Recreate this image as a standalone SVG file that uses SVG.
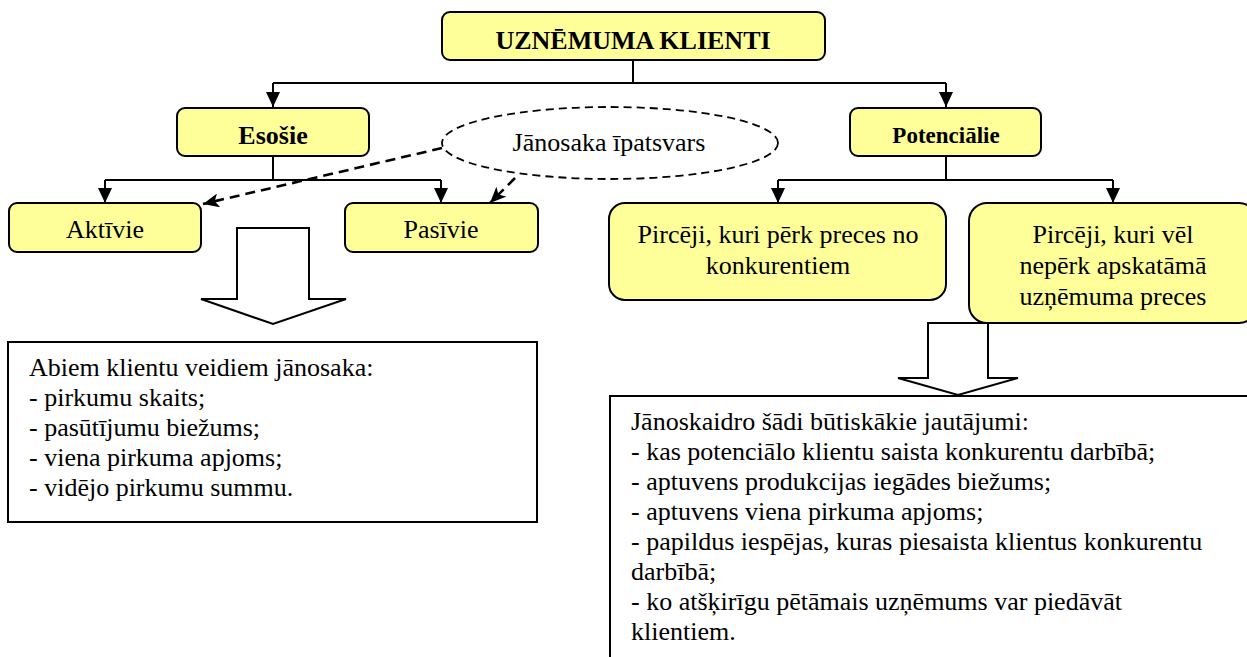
<svg xmlns="http://www.w3.org/2000/svg" width="1247" height="657" viewBox="0 0 1247 657">
<style>
.node{fill:#FFFF99;stroke:#000;stroke-width:2}
.tbox{fill:#fff;stroke:#000;stroke-width:2}
.conn{fill:none;stroke:#000;stroke-width:2}
.dash{fill:none;stroke:#000;stroke-width:2.6;stroke-dasharray:10 6}
.ell{fill:#fff;stroke:#000;stroke-width:1.8;stroke-dasharray:8 5}
.bigarrow{fill:#fff;stroke:#000;stroke-width:2}
text{font-family:"Liberation Serif","Times New Roman",serif;font-size:26px;fill:#000}
.c{text-anchor:middle}
.b{font-weight:bold}
</style>
<defs>
<marker id="ah" viewBox="0 0 15 14" refX="15" refY="7" markerWidth="15" markerHeight="14" markerUnits="userSpaceOnUse" orient="auto">
<path d="M0,0 L15,7 L0,14 Z" fill="#000"/>
</marker>
<marker id="ahd" viewBox="0 0 16 14" refX="16" refY="7" markerWidth="16" markerHeight="14" markerUnits="userSpaceOnUse" orient="auto">
<path d="M0,0 L16,7 L0,14 L4,7 Z" fill="#000"/>
</marker>
</defs>
<rect width="1247" height="657" fill="#fff"/>

<g id="connectors">
<path class="conn" d="M633,60 V83 M273,83 H946" />
<path class="conn" d="M273,83 V107" marker-end="url(#ah)"/>
<path class="conn" d="M946,83 V107" marker-end="url(#ah)"/>
<path class="conn" d="M273,156 V180 M105,180 H441"/>
<path class="conn" d="M105,180 V203" marker-end="url(#ah)"/>
<path class="conn" d="M441,180 V203" marker-end="url(#ah)"/>
<path class="conn" d="M946,156 V180 M778,180 H1113"/>
<path class="conn" d="M778,180 V203" marker-end="url(#ah)"/>
<path class="conn" d="M1113,180 V203" marker-end="url(#ah)"/>
</g>

<g id="ellipse-note">
<ellipse class="ell" cx="610" cy="143" rx="168" ry="36"/>
<text x="609" y="151" class="c">Jānosaka īpatsvars</text>
</g>

<g id="dashed-connectors">
<path class="dash" d="M442,148 L203,204" marker-end="url(#ahd)"/>
<path class="dash" d="M515,178 L490,203" marker-end="url(#ahd)"/>
</g>

<g id="node-root">
<rect class="node" x="442" y="12" width="383" height="48" rx="8"/>
<text x="633" y="49" class="c b">UZNĒMUMA KLIENTI</text>
</g>

<g id="node-esosie">
<rect class="node" x="177" y="108" width="192" height="48" rx="8"/>
<text x="273" y="144" class="c b">Esošie</text>
</g>

<g id="node-potencialie">
<rect class="node" x="850" y="108" width="191" height="48" rx="8"/>
<text x="946" y="143" class="c b" style="font-size:23px">Potenciālie</text>
</g>

<g id="node-aktivie">
<rect class="node" x="9" y="203" width="192" height="49" rx="8"/>
<text x="105" y="238" class="c">Aktīvie</text>
</g>

<g id="node-pasivie">
<rect class="node" x="345" y="203" width="193" height="49" rx="8"/>
<text x="441" y="238" class="c">Pasīvie</text>
</g>

<g id="node-pirceji1">
<rect class="node" x="609" y="203" width="337" height="97" rx="16"/>
<text x="778" y="243" class="c">Pircēji, kuri pērk preces no</text>
<text x="778" y="274" class="c">konkurentiem</text>
</g>

<g id="node-pirceji2">
<rect class="node" x="969" y="203" width="288" height="120" rx="18"/>
<text x="1113" y="243" class="c">Pircēji, kuri vēl</text>
<text x="1113" y="274" class="c">nepērk apskatāmā</text>
<text x="1113" y="305" class="c">uzņēmuma preces</text>
</g>

<g id="arrow-left">
<path class="bigarrow" d="M237,228 H309 V299 H346 L273,324 L201,299 H237 Z"/>
</g>

<g id="arrow-right">
<path class="bigarrow" d="M928,323 H988 V378 H1018 L958,395 L898,378 H928 Z"/>
</g>

<g id="box-left">
<rect class="tbox" x="8" y="342" width="529" height="180"/>
<text x="29" y="376">Abiem klientu veidiem jānosaka:</text>
<text x="29" y="406">- pirkumu skaits;</text>
<text x="29" y="436">- pasūtījumu biežums;</text>
<text x="29" y="466">- viena pirkuma apjoms;</text>
<text x="29" y="496">- vidējo pirkumu summu.</text>
</g>

<g id="box-right">
<rect class="tbox" x="610" y="396" width="660" height="300"/>
<text x="631" y="430">Jānoskaidro šādi būtiskākie jautājumi:</text>
<text x="631" y="460">- kas potenciālo klientu saista konkurentu darbībā;</text>
<text x="631" y="490">- aptuvens produkcijas iegādes biežums;</text>
<text x="631" y="520">- aptuvens viena pirkuma apjoms;</text>
<text x="631" y="550">- papildus iespējas, kuras piesaista klientus konkurentu</text>
<text x="631" y="580">darbībā;</text>
<text x="631" y="610">- ko atšķirīgu pētāmais uzņēmums var piedāvāt</text>
<text x="631" y="640">klientiem.</text>
</g>
</svg>
